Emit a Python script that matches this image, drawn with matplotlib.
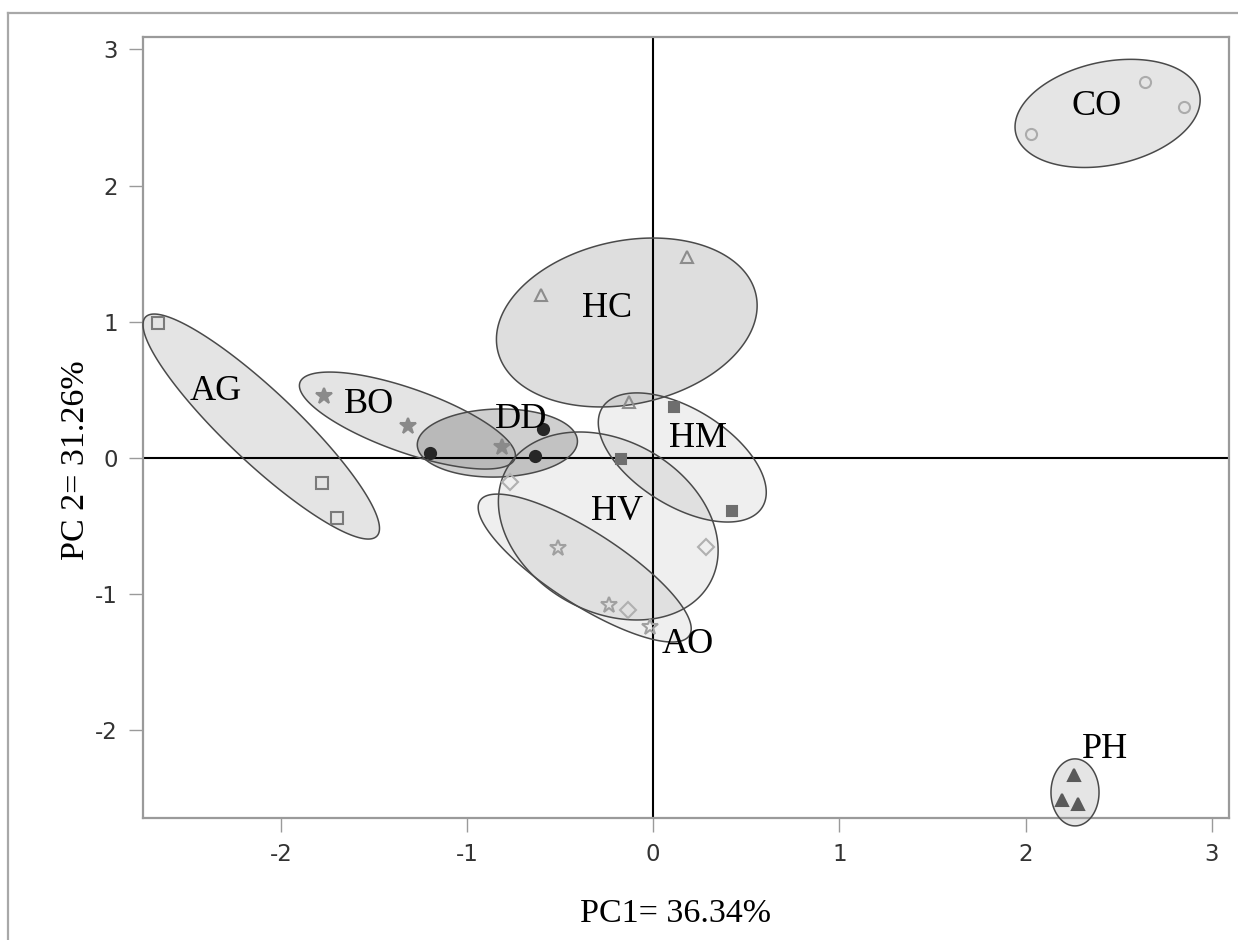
import numpy as np
import matplotlib
matplotlib.use("Agg")
import matplotlib.pyplot as plt
from matplotlib.patches import Polygon
from matplotlib.lines import Line2D

# ---- PCA scores (three replicates per group) ----
groups = ["AG", "BO", "DD", "HC", "HM", "HV", "AO", "CO", "PH"]

ag_x = [-2.66, -1.777, -1.696]
ag_y = [0.99, -0.184, -0.44]
bo_x = [-1.766, -1.315, -0.81]
bo_y = [0.456, 0.235, 0.078]
dd_x = [-1.197, -0.59, -0.636]
dd_y = [0.040, 0.216, 0.015]
hc_x = [-0.60, 0.18, -0.13]
hc_y = [1.20, 1.476, 0.41]
hm_x = [0.113, -0.175, 0.424]
hm_y = [0.377, -0.007, -0.39]
hv_x = [-0.768, 0.286, -0.134]
hv_y = [-0.174, -0.652, -1.116]
ao_x = [-0.513, -0.24, -0.016]
ao_y = [-0.66, -1.08, -1.24]
co_x = [2.03, 2.64, 2.85]
co_y = [2.38, 2.76, 2.58]
ph_x = [2.26, 2.195, 2.28]
ph_y = [-2.33, -2.51, -2.54]

scores_x = [ag_x, bo_x, dd_x, hc_x, hm_x, hv_x, ao_x, co_x, ph_x]
scores_y = [ag_y, bo_y, dd_y, hc_y, hm_y, hv_y, ao_y, co_y, ph_y]

# ---- group ellipses: centre, half extents along PC1 / PC2, correlation ----
ell_cx = [-2.105, -1.32, -0.837, -0.142, 0.156, -0.2415, -0.368, 2.44, 2.265]
ell_cy = [0.231, 0.275, 0.11, 0.995, 0.004, -0.499, -0.808, 2.53, -2.455]
ell_hx = [0.635, 0.58, 0.43, 0.70, 0.451, 0.59, 0.572, 0.497, 0.129]
ell_hy = [0.826, 0.356, 0.25, 0.62, 0.474, 0.69, 0.543, 0.397, 0.246]
ell_r = [-0.905, -0.72, 0.05, 0.20, -0.54, -0.26, -0.82, 0.25, 0.0]

# ---- styling ----
fill_grey = [228, 228, 207, 222, 239, 239, 239, 229, 229]
markers = ["s", "*", "o", "^", "s", "D", "*", "o", "^"]
msizes = [8.5, 12, 8, 9, 7.5, 8, 12, 8, 9]
mcolors = ["#7a7a7a", "#8a8a8a", "#262626", "#8c8c8c", "#6e6e6e",
           "#b0b0b0", "#a0a0a0", "#ababab", "#5a5a5a"]
mfilled = [False, True, True, False, True, False, False, False, True]

label_x = [-2.35, -1.524, -0.709, -0.247, 0.242, -0.193, 0.188, 2.383, 2.426]
label_y = [0.426, 0.330, 0.220, 1.035, 0.081, -0.455, -1.432, 2.518, -2.203]

W, H = 1238, 940
fig = plt.figure(figsize=(W / 100, H / 100), dpi=100)
fig.patch.set_facecolor("white")

ax = fig.add_axes([143 / W, (H - 818) / H, (1229 - 143) / W, (818 - 37) / H])
ax.set_xlim(-2.74, 3.092)
ax.set_ylim(-2.643, 3.091)

serif = ["Liberation Serif", "DejaVu Serif"]

t = np.linspace(0, 2 * np.pi, 400)
outlines = []
for i, g in enumerate(groups):
    r = ell_r[i]
    ex = ell_cx[i] + ell_hx[i] * np.cos(t)
    ey = ell_cy[i] + ell_hy[i] * (r * np.cos(t) + np.sqrt(1 - r * r) * np.sin(t))
    pts = np.column_stack([ex, ey])
    alpha = 1 - fill_grey[i] / 255.0
    ax.add_patch(Polygon(pts, closed=True, facecolor="black", alpha=alpha,
                         edgecolor="none", clip_on=False, zorder=1))
    outlines.append(pts)

# origin reference lines
ax.axvline(0, color="black", lw=1.5, zorder=2)
ax.axhline(0, color="black", lw=1.5, zorder=2)

for pts in outlines:
    ax.add_patch(Polygon(pts, closed=True, facecolor="none", edgecolor="#4a4a4a",
                         lw=1.1, clip_on=False, zorder=3))

for i, g in enumerate(groups):
    c = mcolors[i]
    ax.plot(scores_x[i], scores_y[i], linestyle="none", marker=markers[i],
            ms=msizes[i], mec=c, mfc=c if mfilled[i] else "none",
            mew=1.5, zorder=4, clip_on=False)
    ax.text(label_x[i], label_y[i], g, ha="center", va="baseline",
            fontsize=26, family=serif, color="black", zorder=5)

# axes styling
for s in ax.spines.values():
    s.set_color("#9a9a9a")
    s.set_linewidth(1.6)
ax.set_xticks([-2, -1, 0, 1, 2, 3])
ax.set_yticks([-2, -1, 0, 1, 2, 3])
ax.set_xticklabels(["-2", "-1", "0", "1", "2", "3"])
ax.set_yticklabels(["-2", "-1", "0", "1", "2", "3"])
ax.tick_params(axis="both", length=10, width=1.0, color="#9a9a9a",
               labelcolor="#333333", labelsize=16.5, pad=8)
for lab in ax.get_xticklabels() + ax.get_yticklabels():
    lab.set_family(["Liberation Sans Narrow", "DejaVu Sans"])

fig.text(675.5 / W, (H - 922) / H, "PC1= 36.34%", ha="center", va="baseline",
         fontsize=24.5, family=serif)
fig.text(75.5 / W, (H - 460) / H, "PC 2= 31.26%", ha="center", va="center",
         rotation=90, fontsize=24.5, family=serif)

# outer frame (top and left edges)
fig.add_artist(Line2D([8 / W, 1.0], [(H - 13) / H, (H - 13) / H],
                      transform=fig.transFigure, color="#a8a8a8", lw=1.6))
fig.add_artist(Line2D([8 / W, 8 / W], [0, (H - 13) / H],
                      transform=fig.transFigure, color="#a8a8a8", lw=1.6))

fig.savefig("out.png", dpi=100, facecolor="white")
